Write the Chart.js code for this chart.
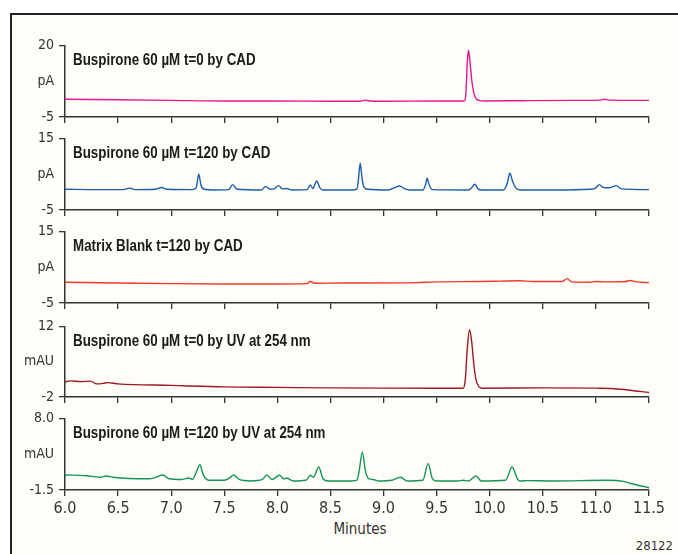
<!DOCTYPE html>
<html>
<head>
<meta charset="utf-8">
<script src="https://cdn.jsdelivr.net/npm/chart.js@4.4.1/dist/chart.umd.min.js"></script>
<style>
  body { margin: 0; background: #fff; }
  #page { position: relative; width: 678px; height: 554px; overflow: hidden; }
  #frame { position: absolute; left: 10px; top: 13px; right: -4px; bottom: -4px;
           border-left: 2px solid #222; border-top: 2px solid #222; background: #fffdf7; }
  canvas { position: absolute; left: 0; }
  .txt { position: absolute; font-family: "DejaVu Sans Condensed", sans-serif; color: #333; }
</style>
</head>
<body>
<div id="page">
  <div id="frame"></div>
  <canvas id="p1" width="678" height="103" style="top:32px"></canvas>
  <canvas id="p2" width="678" height="103" style="top:125px"></canvas>
  <canvas id="p3" width="678" height="103" style="top:218px"></canvas>
  <canvas id="p4" width="678" height="102" style="top:313px"></canvas>
  <canvas id="p5" width="678" height="115" style="top:405px"></canvas>
  <div class="txt" style="left:320px; width:80px; text-align:center; top:520px; font-size:15px;">Minutes</div>
  <div class="txt" style="right:5px; top:538px; font-size:13px;">28122</div>
</div>
<script>
// retention time axis
var xMin = 6.0, xMax = 11.5, xStep = 0.5;

// Buspirone 60 uM t=0 by CAD
var cad0Time = [6.0, 6.5, 7.0, 7.5, 8.0, 8.5, 8.78, 8.83, 8.87, 9.0, 9.5, 9.76, 9.775, 9.79, 9.80, 9.815, 9.83, 9.85, 9.87, 9.90, 9.95, 10.3, 10.8, 11.05, 11.08, 11.12, 11.5];
var cad0Val  = [1.2, 1.0, 0.8, 0.6, 0.6, 0.5, 0.5, 0.9, 0.6, 0.5, 0.6, 0.6, 3.0, 15.0, 18.3, 14.0, 8.0, 3.5, 1.5, 0.8, 0.6, 0.7, 0.8, 0.9, 1.2, 0.9, 0.8];

// Buspirone 60 uM t=120 by CAD
var cad120Time = [6.0, 6.3, 6.55, 6.61, 6.66, 6.85, 6.91, 6.96, 7.2, 7.235, 7.26, 7.28, 7.31, 7.4, 7.54, 7.58, 7.62, 7.85, 7.89, 7.93, 7.97, 8.01, 8.05, 8.09, 8.13, 8.28, 8.31, 8.335, 8.37, 8.40, 8.43, 8.7, 8.75, 8.765, 8.78, 8.795, 8.81, 8.85, 9.05, 9.1, 9.15, 9.2, 9.25, 9.37, 9.395, 9.41, 9.43, 9.46, 9.8, 9.83, 9.86, 9.89, 9.93, 10.13, 10.165, 10.19, 10.215, 10.25, 10.3, 10.6, 10.95, 11.0, 11.03, 11.07, 11.13, 11.19, 11.24, 11.5];
var cad120Val  = [0.8, 0.7, 0.7, 1.1, 0.7, 0.8, 1.3, 0.8, 0.7, 1.2, 5.0, 2.0, 0.8, 0.6, 0.7, 2.1, 0.8, 0.6, 1.6, 0.8, 0.9, 1.8, 0.9, 1.0, 0.6, 0.7, 2.0, 1.0, 3.1, 1.2, 0.6, 0.6, 0.9, 4.0, 8.1, 4.5, 1.8, 0.8, 0.6, 1.2, 1.7, 0.9, 0.6, 0.6, 2.0, 3.85, 2.0, 0.7, 0.6, 1.2, 2.2, 0.9, 0.6, 0.6, 2.5, 5.3, 3.0, 1.0, 0.6, 0.6, 0.8, 1.2, 2.1, 1.3, 1.2, 1.8, 0.9, 0.7];

// Matrix Blank t=120 by CAD
var blankTime = [6.0, 6.5, 7.0, 7.5, 8.0, 8.28, 8.31, 8.35, 8.6, 8.8, 9.3, 9.5, 9.9, 10.1, 10.28, 10.4, 10.68, 10.73, 10.77, 10.95, 11.0, 11.1, 11.28, 11.32, 11.38, 11.5];
var blankVal  = [0.8, 0.6, 0.4, 0.3, 0.3, 0.4, 1.0, 0.5, 0.6, 0.6, 0.7, 0.9, 1.0, 1.1, 1.2, 1.0, 1.0, 1.8, 0.9, 0.8, 1.0, 0.9, 1.0, 1.3, 0.9, 0.7];

// Buspirone 60 uM t=0 by UV at 254 nm
var uv0Time = [6.0, 6.05, 6.15, 6.24, 6.3, 6.36, 6.4, 6.5, 7.0, 7.5, 8.0, 8.5, 9.0, 9.5, 9.75, 9.77, 9.79, 9.81, 9.83, 9.85, 9.87, 9.9, 9.93, 10.5, 11.0, 11.15, 11.3, 11.5];
var uv0Val  = [1.0, 1.2, 1.05, 1.15, 0.6, 0.7, 0.85, 0.6, 0.3, 0.0, -0.1, -0.2, -0.25, -0.25, -0.25, 1.5, 8.0, 11.35, 9.0, 4.5, 1.5, 0.0, -0.25, -0.2, -0.25, -0.3, -0.6, -1.1];

// Buspirone 60 uM t=120 by UV at 254 nm
var uv120Time = [6.0, 6.2, 6.33, 6.39, 6.45, 6.8, 6.86, 6.92, 6.98, 7.1, 7.17, 7.2, 7.24, 7.27, 7.30, 7.35, 7.5, 7.55, 7.59, 7.64, 7.75, 7.86, 7.90, 7.95, 8.02, 8.06, 8.09, 8.15, 8.27, 8.31, 8.34, 8.39, 8.43, 8.48, 8.7, 8.75, 8.77, 8.80, 8.83, 8.86, 8.9, 8.95, 9.08, 9.16, 9.22, 9.37, 9.42, 9.46, 9.5, 9.7, 9.75, 9.8, 9.87, 9.92, 10.15, 10.21, 10.27, 10.3, 10.35, 10.6, 11.1, 11.26, 11.32, 11.5];
var uv120Val  = [0.5, 0.4, 0.2, 0.35, 0.2, 0.0, 0.2, 0.5, 0.0, -0.1, 0.1, -0.1, 1.0, 1.85, 0.6, -0.2, -0.2, 0.1, 0.5, -0.1, -0.3, -0.1, 0.5, -0.1, 0.45, 0.0, 0.05, -0.3, -0.2, 0.45, 0.2, 1.55, 0.0, -0.3, -0.3, -0.2, 1.0, 3.5, 1.0, 0.0, -0.1, -0.3, -0.2, 0.2, -0.3, -0.2, 2.0, 0.0, -0.3, -0.3, -0.2, -0.3, 0.35, -0.3, -0.2, 1.55, -0.2, -0.3, -0.25, -0.3, -0.2, -0.35, -0.6, -1.2];

// y tick labels (bottom, middle/unit, top)
var cad0Ticks   = ['-5', 'pA', '20'];
var cad120Ticks = ['-5', 'pA', '15'];
var blankTicks  = ['-5', 'pA', '15'];
var uv0Ticks    = ['-2', 'mAU', '12'];
var uv120Ticks  = ['-1.5', 'mAU', '8.0'];

var narrow = '"DejaVu Sans Condensed", sans-serif';
var axisColor = '#333';

function makePanel(id, times, values, color, yMin, yMax, tickLabels, title, showX)
{
  var points = times.map(function(t, i) { return { x: t, y: values[i] }; });

  // panel caption, drawn as a condensed bold face inside the plot
  var titlePlugin =
  {
    id: 'panelTitle',
    afterDraw: function(chart)
    {
      var c = chart.ctx;
      c.save();
      c.translate(chart.chartArea.left + 8, chart.chartArea.top + 20);
      c.scale(0.81, 1);
      c.font = 'bold 16.5px "Liberation Sans", Arial, sans-serif';
      c.fillStyle = '#1a1a1a';
      c.textBaseline = 'alphabetic';
      c.fillText(title, 0, 0);
      c.restore();
    }
  };

  return new Chart(document.getElementById(id),
  {
    type: 'line',
    data:
    {
      datasets:
      [{
        data: points,
        borderColor: color,
        borderWidth: 1.4,
        pointRadius: 0,
        fill: false,
        cubicInterpolationMode: 'monotone'
      }]
    },
    options:
    {
      responsive: false,
      animation: false,
      devicePixelRatio: 1,
      layout: { padding: { top: 12, right: 29, bottom: 0, left: 0 } },
      plugins: { legend: { display: false }, tooltip: { enabled: false } },
      scales:
      {
        x:
        {
          type: 'linear',
          min: xMin,
          max: xMax,
          afterFit: function(scale) { scale.height = showX ? 30 : 18; },
          ticks:
          {
            display: showX,
            stepSize: xStep,
            padding: 3,
            color: axisColor,
            font: { family: narrow, size: 16 },
            maxRotation: 0,
            callback: function(v) { return v.toFixed(1); }
          },
          grid: { display: true, drawOnChartArea: false, drawTicks: true, tickLength: 6, color: axisColor, lineWidth: 1.3 },
          border: { display: true, color: axisColor, width: 1.5 }
        },
        y:
        {
          min: yMin,
          max: yMax,
          afterFit: function(scale) { scale.width = 65; },
          afterBuildTicks: function(scale)
          {
            scale.ticks = [{ value: yMin }, { value: (yMin + yMax) / 2 }, { value: yMax }];
          },
          ticks:
          {
            padding: 5,
            color: axisColor,
            font: { family: narrow, size: 14 },
            callback: function(v, i) { return tickLabels[i]; }
          },
          grid:
          {
            display: true,
            drawOnChartArea: false,
            drawTicks: true,
            tickLength: 6,
            lineWidth: 1.3,
            color: axisColor,
            tickColor: function(ctx) { return ctx.index === 1 ? 'rgba(0,0,0,0)' : axisColor; }
          },
          border: { display: true, color: axisColor, width: 1.5 }
        }
      }
    },
    plugins: [titlePlugin]
  });
}

makePanel('p1', cad0Time, cad0Val, '#e3188b', -5, 20, cad0Ticks, 'Buspirone 60 \u00b5M t=0 by CAD', false);
makePanel('p2', cad120Time, cad120Val, '#1b5eab', -5, 15, cad120Ticks, 'Buspirone 60 \u00b5M t=120 by CAD', false);
makePanel('p3', blankTime, blankVal, '#ec3a2a', -5, 15, blankTicks, 'Matrix Blank t=120 by CAD', false);
makePanel('p4', uv0Time, uv0Val, '#9c1a22', -2, 12, uv0Ticks, 'Buspirone 60 \u00b5M t=0 by UV at 254 nm', false);
makePanel('p5', uv120Time, uv120Val, '#13955a', -1.5, 8.0, uv120Ticks, 'Buspirone 60 \u00b5M t=120 by UV at 254 nm', true);
</script>
</body>
</html>
